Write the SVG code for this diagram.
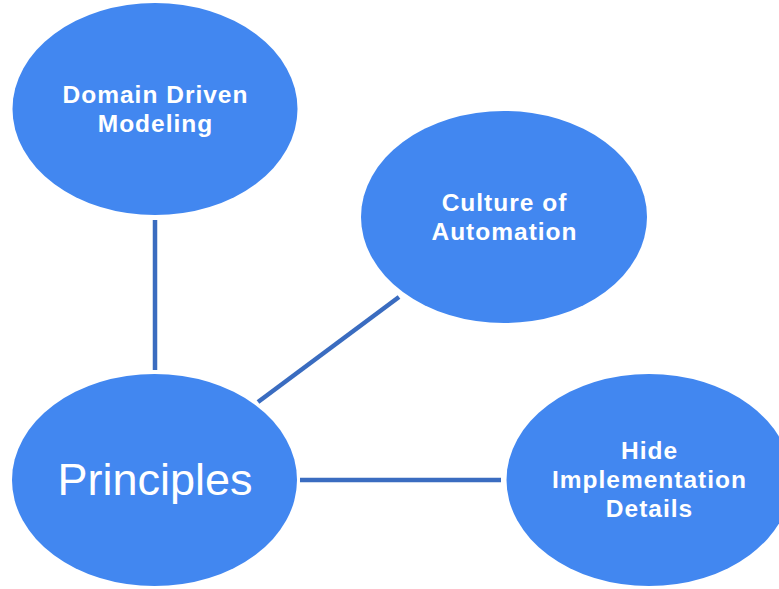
<svg xmlns="http://www.w3.org/2000/svg" width="779" height="589" viewBox="0 0 779 589">
<style>
.node{fill:#4287f0;}
.edge{stroke:#3a6cc0;stroke-width:4.5;fill:none;}
.lbl{font-family:"Liberation Sans",Arial,sans-serif;font-weight:bold;font-size:24.5px;letter-spacing:1px;fill:#ffffff;text-anchor:middle;}
.big{font-family:"Liberation Sans",Arial,sans-serif;font-size:45px;fill:#ffffff;text-anchor:middle;}
</style>
<rect width="779" height="589" fill="#ffffff"/>
<g id="connectors">
<line class="edge" x1="155" y1="220" x2="155" y2="370"/>
<line class="edge" x1="399" y1="297" x2="258" y2="402"/>
<line class="edge" x1="300" y1="480" x2="501" y2="480"/>
</g>
<g id="domain-driven-modeling">
<ellipse class="node" cx="155" cy="109" rx="142.5" ry="106"/>
<text class="lbl" x="155.5" y="103">Domain Driven</text>
<text class="lbl" x="155.5" y="132">Modeling</text>
</g>
<g id="culture-of-automation">
<ellipse class="node" cx="504" cy="217" rx="143" ry="106"/>
<text class="lbl" x="504.5" y="211">Culture of</text>
<text class="lbl" x="504.5" y="240">Automation</text>
</g>
<g id="principles">
<ellipse class="node" cx="154.5" cy="480" rx="142.5" ry="106"/>
<text class="big" x="155" y="495">Principles</text>
</g>
<g id="hide-implementation-details">
<ellipse class="node" cx="649" cy="480" rx="142.5" ry="106"/>
<text class="lbl" x="649.5" y="459">Hide</text>
<text class="lbl" x="649.5" y="488">Implementation</text>
<text class="lbl" x="649.5" y="517">Details</text>
</g>
</svg>
